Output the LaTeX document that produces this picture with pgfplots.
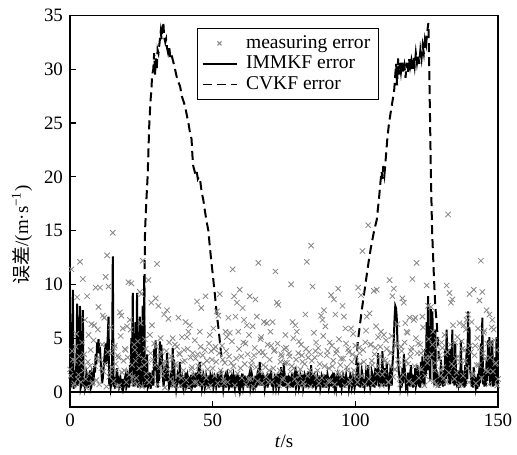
\documentclass[border=0pt]{standalone}
\usepackage{pgfplots}
\pgfplotsset{compat=1.18}
\usepackage{fontspec}
\setmainfont{Liberation Serif}
\newfontfamily\cjk{Noto Sans CJK SC}
\definecolor{meas}{RGB}{135,135,135}
\begin{document}
\begin{tikzpicture}
\useasboundingbox (-35bp,-24bp) rectangle (223.5bp,203.5bp);
\begin{axis}[
  at={(0,0)}, anchor=south west, scale only axis,
  width=214bp, height=195.75bp,
  xmin=0, xmax=150, ymin=-1.4, ymax=35,
  xtick={0,50,100,150}, ytick={0,5,...,35},
  tick pos=left, tick align=inside, major tick length=3bp,
  axis line style={line width=0.6pt}, every tick/.style={black, line width=0.6pt},
  /pgf/number format/assume math mode=true,
  tick label style={font=\fontsize{9.5}{11}\selectfont},
  label style={font=\fontsize{9.5}{11}\selectfont},
  xlabel={\textit{t}/s},
  ylabel={{\cjk 误差}/(m·s\textsuperscript{−1})},
  xlabel style={at={(axis description cs:0.5,-0.089)}, anchor=center},
  ylabel style={at={(axis description cs:-0.112,0.44)}, anchor=center},
  legend style={at={(0.2967,0.968)}, anchor=north west, draw=black, line width=0.6pt,
     font=\fontsize{9.8}{11}\selectfont, inner xsep=2.2bp, inner ysep=1.4bp, row sep=-1.6bp,
     /tikz/every odd column/.append style={column sep=2.5bp}},
  legend image post style={line width=0.55bp, mark size=1.4pt},
  legend cell align=left,
]
\addplot[only marks, mark=x, mark size=1.9pt, draw=meas, line width=0.4pt] coordinates {
(0,2.1)(0.5,11.4)(1,3.0)(1.5,0.8)(2,4.2)(2.5,8.8)(3,1.6)(3.5,12.1)(4,2.7)(4.5,10.5)
(5,3.5)(5.5,1.2)(6,8.9)(6.5,5.3)(7,2.4)(7.5,6.3)(8,0.9)(8.5,6.2)(9,9.7)(9.5,3.1)
(10,7.9)(10.5,9.7)(11,2.2)(11.5,7.1)(12,6.9)(12.5,10.7)(13,12.7)(13.5,9.8)(14,1.8)(14.5,3.6)
(15,14.8)(15.5,4.1)(16,2.6)(16.5,0.5)(17,3.2)(17.5,7.4)(18,7.1)(18.5,5.9)(19,2.0)(19.5,3.9)
(20,6.1)(20.5,10.2)(21,6.7)(21.5,10.1)(22,1.4)(22.5,4.4)(23,2.9)(23.5,0.7)(24,3.4)(24.5,9.3)
(25,9.1)(25.5,12.2)(26,2.5)(26.5,4.0)(27,1.1)(27.5,10.4)(28,5.3)(28.5,8.3)(29,3.0)(29.5,4.5)
(30,8.7)(30.5,11.9)(31,8.0)(31.5,2.3)(32,3.7)(32.5,1.5)(33,7.2)(33.5,2.8)(34,7.6)(34.5,6.8)
(35,1.9)(35.5,3.3)(36,5.0)(36.5,0.6)(37,2.6)(37.5,4.2)(38,6.9)(38.5,3.5)(39,1.3)(39.5,2.8)
(40,3.9)(40.5,6.5)(41,5.1)(41.5,5.6)(42,6.2)(42.5,2.1)(43,3.6)(43.5,0.9)(44,3.1)(44.5,8.4)
(45,2.4)(45.5,5.6)(46,7.8)(46.5,3.4)(47,1.6)(47.5,8.9)(48,2.9)(48.5,0.4)(49,5.3)(49.5,3.8)
(50,2.2)(50.5,4.0)(51,4.2)(51.5,7.5)(52,7.1)(52.5,9.1)(53,1.7)(53.5,3.0)(54,0.8)(54.5,5.6)
(55,5.1)(55.5,6.9)(56,5.5)(56.5,2.7)(57,11.4)(57.5,8.9)(58,7.0)(58.5,8.3)(59,5.6)(59.5,9.5)
(60,3.3)(60.5,7.8)(61,6.7)(61.5,4.5)(62,6.2)(62.5,1.2)(63,8.9)(63.5,2.5)(64,6.1)(64.5,3.4)
(65,8.6)(65.5,7.0)(66,12.0)(66.5,1.9)(67,5.1)(67.5,3.7)(68,6.5)(68.5,2.3)(69,6.4)(69.5,0.9)
(70,3.0)(70.5,4.3)(71,6.5)(71.5,3.8)(72,11.2)(72.5,8.3)(73,8.1)(73.5,2.0)(74,3.5)(74.5,1.1)
(75,4.0)(75.5,5.3)(76,2.7)(76.5,0.7)(77,3.3)(77.5,10.0)(78,6.5)(78.5,2.2)(79,6.2)(79.5,5.6)
(80,3.6)(80.5,1.5)(81,4.4)(81.5,2.8)(82,0.6)(82.5,7.2)(83,12.1)(83.5,3.2)(84,2.0)(84.5,13.6)
(85,9.8)(85.5,5.5)(86,3.8)(86.5,1.3)(87,4.1)(87.5,2.6)(88,7.1)(88.5,6.7)(89,7.6)(89.5,6.1)
(90,3.4)(90.5,1.0)(91,4.6)(91.5,9.0)(92,2.4)(92.5,8.6)(93,7.2)(93.5,3.9)(94,9.6)(94.5,1.7)
(95,3.1)(95.5,8.0)(96,7.0)(96.5,5.9)(97,2.3)(97.5,4.0)(98,0.8)(98.5,5.9)(99,3.5)(99.5,2.0)
(100,4.3)(100.5,1.4)(101,9.7)(101.5,3.6)(102,9.0)(102.5,13.1)(103,2.8)(103.5,4.6)(104,7.0)(104.5,15.5)
(105,7.3)(105.5,4.4)(106,2.5)(106.5,9.4)(107,4.1)(107.5,9.5)(108,5.1)(108.5,3.3)(109,5.6)(109.5,1.6)
(110,5.3)(110.5,2.9)(111,4.0)(111.5,0.9)(112,10.4)(112.5,3.7)(113,8.9)(113.5,9.6)(114,2.1)(114.5,4.5)
(115,3.0)(115.5,1.2)(116,4.2)(116.5,8.7)(117,8.3)(117.5,6.4)(118,5.6)(118.5,2.6)(119,6.9)(119.5,3.8)
(120,10.5)(120.5,6.7)(121,6.9)(121.5,12.0)(122,4.5)(122.5,2.2)(123,3.6)(123.5,7.0)(124,3.8)(124.5,1.5)
(125,9.9)(125.5,8.0)(126,3.2)(126.5,7.9)(127,4.4)(127.5,1.0)(128,2.7)(128.5,4.8)(129,0.6)(129.5,3.4)
(130,2.0)(130.5,4.1)(131,1.3)(131.5,3.5)(132,9.9)(132.5,16.5)(133,9.2)(133.5,8.3)(134,8.6)(134.5,2.4)
(135,4.6)(135.5,1.8)(136,3.3)(136.5,6.4)(137,0.7)(137.5,4.0)(138,6.2)(138.5,2.9)(139,6.7)(139.5,7.2)
(140,9.1)(140.5,3.7)(141,1.5)(141.5,9.5)(142,4.3)(142.5,2.5)(143,5.9)(143.5,8.5)(144,12.2)(144.5,9.3)
(145,5.5)(145.5,3.1)(146,7.6)(146.5,1.9)(147,7.2)(147.5,4.4)(148,6.7)(148.5,5.8)(149,2.6)(149.5,3.9)
(150,1.2)
(0.25,1.5)(0.75,3.8)(1.25,0.6)(1.75,2.9)(2.25,5.4)(2.75,1.2)(3.25,3.3)(3.75,0.9)(4.25,4.6)(4.75,2.0)
(5.25,6.7)(5.75,0.4)(6.25,2.8)(6.75,1.7)(7.25,3.9)(7.75,0.8)(8.25,4.8)(8.75,2.4)(9.25,1.1)(9.75,5.8)
(10.25,0.7)(10.75,3.0)(11.25,4.4)(11.75,1.9)(12.25,2.6)(12.75,0.5)(13.25,3.7)(13.75,1.4)(14.25,6.0)(14.75,2.3)
(15.25,1.0)(15.75,4.3)(16.25,2.0)(16.75,3.4)(17.25,0.6)(17.75,5.2)(18.25,1.8)(18.75,2.9)(19.25,4.0)(19.75,0.9)
(20.25,3.2)(20.75,1.6)(21.25,5.8)(21.75,2.5)(22.25,0.8)(22.75,3.9)(23.25,1.3)(23.75,4.7)(24.25,2.2)(24.75,6.4)
(25.25,0.5)(25.75,3.1)(26.25,4.9)(26.75,1.7)(27.25,2.8)(27.75,0.9)(28.25,3.6)(28.75,6.2)(29.25,1.4)(29.75,2.5)
(30.25,4.2)(30.75,0.7)(31.25,3.3)(31.75,5.0)(32.25,1.9)(32.75,2.7)(33.25,0.4)(33.75,3.8)(34.25,2.1)(34.75,4.6)
(35.25,1.2)(35.75,3.0)(36.25,0.8)(36.75,4.4)(37.25,2.4)(37.75,1.5)(38.25,3.6)(38.75,0.6)(39.25,5.1)(39.75,2.0)
(40.25,2.9)(40.75,1.1)(41.25,4.0)(41.75,0.5)(42.25,3.2)(42.75,2.3)(43.25,1.6)(43.75,4.8)(44.25,0.9)(44.75,3.5)
(45.25,1.8)(45.75,4.2)(46.25,0.7)(46.75,2.6)(47.25,3.9)(47.75,1.3)(48.25,2.1)(48.75,4.5)(49.25,0.6)(49.75,3.0)
(50.25,5.9)(50.75,1.5)(51.25,2.8)(51.75,0.8)(52.25,3.6)(52.75,2.0)(53.25,4.3)(53.75,1.1)(54.25,2.7)(54.75,3.8)
(55.25,0.9)(55.75,3.3)(56.25,1.9)(56.75,4.7)(57.25,2.4)(57.75,0.6)(58.25,3.1)(58.75,1.7)(59.25,4.0)(59.75,2.2)
(60.25,1.3)(60.75,4.6)(61.25,2.6)(61.75,0.7)(62.25,3.5)(62.75,5.3)(63.25,1.2)(63.75,2.9)(64.25,0.5)(64.75,4.1)
(65.25,2.3)(65.75,1.0)(66.25,3.7)(66.75,4.9)(67.25,0.8)(67.75,2.5)(68.25,3.4)(68.75,1.4)(69.25,4.4)(69.75,2.0)
(70.25,5.6)(70.75,0.9)(71.25,2.2)(71.75,3.9)(72.25,1.6)(72.75,4.5)(73.25,0.6)(73.75,2.8)(74.25,3.3)(74.75,1.3)
(75.25,2.7)(75.75,4.1)(76.25,0.7)(76.75,3.6)(77.25,1.9)(77.75,2.4)(78.25,5.0)(78.75,1.2)(79.25,3.0)(79.75,0.8)
(80.25,4.7)(80.75,2.1)(81.25,3.4)(81.75,0.9)(82.25,2.6)(82.75,4.0)(83.25,1.5)(83.75,3.7)(84.25,0.5)(84.75,2.9)
(85.25,1.7)(85.75,3.2)(86.25,4.6)(86.75,2.0)(87.25,0.8)(87.75,3.5)(88.25,1.3)(88.75,5.2)(89.25,2.4)(89.75,0.6)
(90.25,3.8)(90.75,2.2)(91.25,1.0)(91.75,4.3)(92.25,2.9)(92.75,0.7)(93.25,3.6)(93.75,1.8)(94.25,4.9)(94.75,2.5)
(95.25,1.4)(95.75,3.1)(96.25,0.6)(96.75,4.5)(97.25,2.0)(97.75,3.7)(98.25,1.1)(98.75,2.8)(99.25,5.4)(99.75,1.6)
(100.25,3.3)(100.75,0.9)(101.25,4.1)(101.75,2.6)(102.25,1.5)(102.75,3.9)(103.25,0.7)(103.75,5.7)(104.25,2.3)(104.75,1.2)
(105.25,4.4)(105.75,2.9)(106.25,0.8)(106.75,3.5)(107.25,6.1)(107.75,1.7)(108.25,2.4)(108.75,4.2)(109.25,0.6)(109.75,3.0)
(110.25,1.9)(110.75,4.8)(111.25,2.7)(111.75,0.9)(112.25,3.6)(112.75,5.2)(113.25,1.4)(113.75,2.1)(114.25,4.3)(114.75,6.3)
(115.25,2.5)(115.75,0.7)(116.25,3.8)(116.75,1.6)(117.25,4.6)(117.75,2.9)(118.25,5.5)(118.75,1.0)(119.25,3.3)(119.75,4.1)
(120.25,0.8)(120.75,2.4)(121.25,5.0)(121.75,3.6)(122.25,1.3)(122.75,4.4)(123.25,2.1)(123.75,6.0)(124.25,0.6)(124.75,3.2)
(125.25,2.7)(125.75,4.9)(126.25,1.1)(126.75,3.5)(127.25,5.6)(127.75,2.0)(128.25,0.7)(128.75,4.2)(129.25,3.0)(129.75,1.5)
(130.25,4.6)(130.75,2.3)(131.25,5.3)(131.75,0.9)(132.25,3.7)(132.75,1.8)(133.25,4.4)(133.75,2.6)(134.25,6.2)(134.75,1.2)
(135.25,3.1)(135.75,5.1)(136.25,0.6)(136.75,2.8)(137.25,4.7)(137.75,1.5)(138.25,3.9)(138.75,5.8)(139.25,2.2)(139.75,0.9)
(140.25,4.3)(140.75,6.5)(141.25,1.7)(141.75,3.4)(142.25,0.8)(142.75,5.0)(143.25,2.5)(143.75,4.1)(144.25,1.3)(144.75,3.6)
(145.25,5.7)(145.75,2.0)(146.25,4.5)(146.75,0.7)(147.25,3.2)(147.75,6.0)(148.25,1.9)(148.75,4.8)(149.25,2.7)(149.75,0.6)
};
\addlegendentry{measuring error}
\addplot[black, line width=1bp] coordinates {
(0,6.5)(0.25,0.4)(0.5,0.8)(0.75,5.0)(1,9.5)(1.25,0.3)(1.5,1.0)(1.75,2.0)(2,0.5)(2.25,3.0)(2.5,8.2)(2.75,0.6)(3,1.5)(3.25,5.5)(3.5,8.0)(3.75,0.4)(4,0.7)(4.25,3.5)(4.5,7.6)(4.75,0.5)
(5,1.2)(5.25,0.3)(5.5,0.6)(5.75,1.8)(6,1.5)(6.25,0.4)(6.5,0.9)(6.75,1.4)(7,2.0)(7.25,0.3)(7.5,0.5)(7.75,1.6)(8,1.2)(8.25,0.7)(8.5,2.4)(8.75,1.8)(9,3.5)(9.25,2.6)(9.5,4.6)(9.75,3.8)
(10,4.9)(10.25,3.6)(10.5,4.2)(10.75,2.8)(11,2.0)(11.25,0.8)(11.5,1.3)(11.75,2.2)(12,3.0)(12.25,3.8)(12.5,4.5)(12.75,2.6)(13,4.0)(13.25,5.2)(13.5,7.0)(13.75,0.6)(14,1.2)(14.25,0.4)(14.5,0.9)(14.75,2.5)
(15,12.6)(15.25,0.5)(15.5,1.4)(15.75,0.3)(16,0.8)(16.25,1.5)(16.5,2.2)(16.75,0.7)(17,1.5)(17.25,0.4)(17.5,0.6)(17.75,1.1)(18,0.5)(18.25,0.3)(18.5,1.2)(18.75,0.4)(19,0.7)(19.25,1.3)(19.5,1.6)(19.75,0.4)
(20,0.6)(20.25,1.4)(20.5,1.0)(20.75,0.4)(21,2.5)(21.25,0.8)(21.5,5.0)(21.75,2.0)(22,9.2)(22.25,0.5)(22.5,3.0)(22.75,0.6)(23,6.5)(23.25,0.9)(23.5,9.2)(23.75,0.4)(24,2.5)(24.25,0.6)(24.5,7.0)(24.75,0.4)
(25,1.5)(25.25,4.0)(25.5,8.0)(25.75,0.5)(26,10.8)(26.25,0.4)(26.5,1.0)(26.75,0.5)(27,3.5)(27.25,0.4)(27.5,0.6)(27.75,1.2)(28,1.8)(28.25,0.3)(28.5,0.8)(28.75,1.4)(29,2.0)(29.25,0.6)(29.5,4.0)(29.75,2.0)
(30,4.8)(30.25,2.2)(30.5,1.0)(30.75,0.4)(31,2.5)(31.25,1.0)(31.5,4.7)(31.75,2.5)(32,4.4)(32.25,3.0)(32.5,2.0)(32.75,0.5)(33,1.0)(33.25,1.6)(33.5,2.5)(33.75,1.0)(34,3.6)(34.25,2.4)(34.5,1.2)(34.75,0.4)
(35,0.6)(35.25,1.1)(35.5,2.0)(35.75,0.5)(36,4.1)(36.25,1.5)(36.5,3.0)(36.75,0.4)(37,1.2)(37.25,0.3)(37.5,0.8)(37.75,1.7)(38,1.5)(38.25,0.7)(38.5,2.8)(38.75,0.4)(39,1.0)(39.25,1.3)(39.5,0.6)(39.75,0.3)
(40,1.4)(40.25,0.4)(40.5,1.8)(40.75,0.5)(41,0.7)(41.25,1.5)(41.5,1.2)(41.75,0.3)(42,0.9)(42.25,0.6)(42.5,1.6)(42.75,0.4)(43,0.6)(43.25,1.4)(43.5,1.1)(43.75,0.4)(44,1.8)(44.25,0.5)(44.5,1.0)(44.75,1.6)
(45,2.0)(45.25,0.6)(45.5,2.8)(45.75,0.5)(46,1.6)(46.25,0.4)(46.5,0.8)(46.75,1.6)(47,1.3)(47.25,0.4)(47.5,0.7)(47.75,1.5)(48,1.2)(48.25,0.5)(48.5,1.5)(48.75,0.4)(49,0.9)(49.25,1.6)(49.5,1.4)(49.75,0.5)
(50,1.1)(50.25,0.4)(50.5,0.7)(50.75,1.4)(51,1.2)(51.25,0.5)(51.5,0.9)(51.75,1.6)(52,1.5)(52.25,0.4)(52.5,1.0)(52.75,0.5)(53,2.0)(53.25,0.5)(53.5,1.2)(53.75,0.3)(54,0.8)(54.25,1.4)(54.5,1.6)(54.75,0.4)
(55,1.0)(55.25,1.6)(55.5,1.3)(55.75,0.4)(56,0.6)(56.25,1.4)(56.5,1.5)(56.75,0.4)(57,1.1)(57.25,1.5)(57.5,0.8)(57.75,0.4)(58,1.6)(58.25,0.5)(58.5,1.2)(58.75,1.7)(59,0.7)(59.25,0.3)(59.5,1.4)(59.75,0.5)
(60,1.0)(60.25,0.4)(60.5,1.7)(60.75,0.5)(61,0.9)(61.25,1.5)(61.5,0.6)(61.75,1.2)(62,1.3)(62.25,0.4)(62.5,1.0)(62.75,1.5)(63,1.8)(63.25,0.4)(63.5,0.8)(63.75,1.6)(64,1.2)(64.25,0.4)(64.5,0.7)(64.75,0.5)
(65,1.5)(65.25,0.4)(65.5,1.1)(65.75,0.6)(66,2.2)(66.25,0.7)(66.5,2.8)(66.75,0.6)(67,1.0)(67.25,1.6)(67.5,0.6)(67.75,1.5)(68,1.3)(68.25,0.4)(68.5,0.9)(68.75,1.4)(69,1.5)(69.25,0.4)(69.5,1.1)(69.75,1.7)
(70,0.7)(70.25,1.2)(70.5,2.0)(70.75,0.5)(71,1.2)(71.25,0.4)(71.5,0.8)(71.75,1.5)(72,1.4)(72.25,0.5)(72.5,1.0)(72.75,0.4)(73,1.7)(73.25,0.5)(73.5,0.9)(73.75,1.3)(74,2.3)(74.25,0.6)(74.5,1.1)(74.75,0.5)
(75,2.7)(75.25,0.5)(75.5,1.0)(75.75,0.4)(76,1.5)(76.25,0.5)(76.5,0.8)(76.75,1.4)(77,1.3)(77.25,0.4)(77.5,1.0)(77.75,0.5)(78,1.8)(78.25,0.4)(78.5,1.2)(78.75,0.6)(79,2.3)(79.25,0.5)(79.5,0.9)(79.75,1.6)
(80,1.4)(80.25,0.4)(80.5,0.7)(80.75,1.5)(81,1.2)(81.25,0.5)(81.5,1.6)(81.75,0.4)(82,0.8)(82.25,1.6)(82.5,1.4)(82.75,0.4)(83,1.0)(83.25,0.5)(83.5,1.9)(83.75,0.4)(84,1.2)(84.25,0.5)(84.5,2.5)(84.75,0.6)
(85,1.6)(85.25,0.4)(85.5,0.9)(85.75,1.5)(86,1.3)(86.25,0.4)(86.5,0.6)(86.75,1.4)(87,1.1)(87.25,0.5)(87.5,1.5)(87.75,0.4)(88,0.8)(88.25,1.5)(88.5,1.3)(88.75,0.4)(89,1.0)(89.25,0.5)(89.5,1.6)(89.75,0.4)
(90,0.9)(90.25,1.6)(90.5,1.2)(90.75,0.4)(91,0.7)(91.25,1.3)(91.5,1.4)(91.75,0.5)(92,1.1)(92.25,0.4)(92.5,1.8)(92.75,0.5)(93,0.9)(93.25,0.4)(93.5,1.3)(93.75,1.6)(94,0.6)(94.25,1.3)(94.5,1.0)(94.75,0.4)
(95,1.5)(95.25,0.4)(95.5,0.8)(95.75,1.5)(96,1.2)(96.25,0.4)(96.5,1.0)(96.75,1.5)(97,0.6)(97.25,1.3)(97.5,1.3)(97.75,0.4)(98,0.9)(98.25,1.6)(98.5,1.4)(98.75,0.4)(99,0.7)(99.25,1.4)(99.5,1.1)(99.75,0.4)
(100,0.8)(100.25,1.5)(100.5,1.9)(100.75,0.6)(101,2.7)(101.25,0.5)(101.5,1.3)(101.75,0.4)(102,1.0)(102.25,2.0)(102.5,1.6)(102.75,0.4)(103,1.2)(103.25,0.5)(103.5,0.9)(103.75,1.8)(104,1.5)(104.25,0.5)(104.5,2.5)(104.75,0.6)
(105,1.2)(105.25,0.4)(105.5,0.8)(105.75,1.9)(106,1.6)(106.25,0.5)(106.5,1.0)(106.75,0.4)(107,2.2)(107.25,0.6)(107.5,1.4)(107.75,2.0)(108,3.6)(108.25,0.5)(108.5,1.2)(108.75,0.6)(109,2.0)(109.25,0.8)(109.5,3.8)(109.75,0.5)
(110,1.0)(110.25,2.2)(110.5,1.5)(110.75,0.5)(111,2.7)(111.25,0.7)(111.5,1.1)(111.75,0.4)(112,0.8)(112.25,1.9)(112.5,1.5)(112.75,0.6)(113,2.5)(113.25,3.5)(113.5,5.0)(113.75,6.8)(114,8.0)(114.25,7.8)(114.5,7.0)(114.75,4.8)
(115,3.0)(115.25,1.8)(115.5,1.4)(115.75,0.5)(116,1.0)(116.25,0.4)(116.5,2.2)(116.75,0.8)(117,3.5)(117.25,2.4)(117.5,1.5)(117.75,0.5)(118,0.8)(118.25,0.4)(118.5,1.8)(118.75,0.6)(119,1.2)(119.25,0.5)(119.5,2.5)(119.75,0.6)
(120,1.0)(120.25,0.4)(120.5,1.6)(120.75,0.5)(121,2.2)(121.25,0.6)(121.5,1.0)(121.75,2.5)(122,1.8)(122.25,0.5)(122.5,1.3)(122.75,0.4)(123,2.8)(123.25,0.8)(123.5,3.3)(123.75,0.7)(124,1.5)(124.25,0.6)(124.5,4.0)(124.75,1.5)
(125,6.5)(125.25,2.0)(125.5,8.9)(125.75,4.0)(126,2.5)(126.25,1.0)(126.5,7.7)(126.75,3.0)(127,7.5)(127.25,4.0)(127.5,1.2)(127.75,0.6)(128,5.8)(128.25,1.0)(128.5,2.0)(128.75,0.5)(129,1.0)(129.25,0.4)(129.5,1.5)(129.75,0.6)
(130,3.0)(130.25,0.8)(130.5,1.2)(130.75,0.5)(131,2.0)(131.25,0.6)(131.5,4.0)(131.75,1.2)(132,5.8)(132.25,1.5)(132.5,2.5)(132.75,0.8)(133,4.0)(133.25,0.7)(133.5,1.5)(133.75,2.5)(134,5.8)(134.25,0.8)(134.5,2.2)(134.75,0.6)
(135,4.5)(135.25,2.0)(135.5,1.0)(135.75,0.4)(136,2.0)(136.25,0.8)(136.5,1.2)(136.75,0.4)(137,4.8)(137.25,0.8)(137.5,2.0)(137.75,0.5)(138,1.3)(138.25,0.4)(138.5,2.5)(138.75,0.6)(139,4.0)(139.25,1.2)(139.5,7.5)(139.75,2.5)
(140,6.0)(140.25,2.0)(140.5,1.5)(140.75,0.5)(141,1.0)(141.25,0.4)(141.5,2.3)(141.75,0.6)(142,1.4)(142.25,0.4)(142.5,0.8)(142.75,0.3)(143,1.7)(143.25,0.5)(143.5,2.6)(143.75,0.8)(144,4.5)(144.25,1.5)(144.5,6.9)(144.75,0.7)
(145,2.0)(145.25,0.5)(145.5,1.2)(145.75,0.6)(146,3.0)(146.25,1.0)(146.5,4.8)(146.75,1.5)(147,5.1)(147.25,0.6)(147.5,1.5)(147.75,2.0)(148,4.8)(148.25,0.5)(148.5,2.0)(148.75,0.6)(149,3.2)(149.25,1.0)(149.5,5.1)(149.75,0.6)
(150,2.0)
};
\addlegendentry{IMMKF error}
\addplot[black, line width=1bp, dash pattern=on 4.5bp off 2.5bp] coordinates {
(25.6,1)(25.9,6)(26.1,10)(26.3,15)(26.8,18)(27.2,20)(27.5,22.5)(27.8,25)(28.2,27)(28.5,28)
(28.8,29.5)(29.2,30)(29.5,31.5)(29.8,29.5)(30.1,31)(30.4,30)(30.7,31.8)(31,31.5)(31.4,32.5)
(31.8,33.5)(32.1,32.8)(32.4,33.8)(32.7,34.4)(33,33)(33.4,32.5)(33.7,32.8)(34,32)(34.4,31.5)
(34.8,32)(35.2,31)(35.6,31.3)(36.2,30.7)(36.8,30)(37.4,29.3)(38,28.8)(38.6,28.4)(39.2,27.5)
(39.8,27)(40.3,26.6)(40.9,25.8)(41.5,25)(42,24.2)(42.6,23.5)(42.9,22)(43.2,21)(43.6,20.6)
(44,20.2)(44.4,20.5)(44.8,19.8)(45.2,20)(45.6,19.7)(46.2,18.5)(46.7,17.9)(47.3,16.8)(47.9,15.8)
(48.5,15)(49,13.5)(49.6,12)(50.2,10.5)(50.8,9)(51.4,7.3)(52,6)(52.6,4.5)(53.2,3)
};
\addlegendentry{CVKF error}
\addplot[black, line width=1bp, dash pattern=on 4.5bp off 2.5bp, forget plot] coordinates {
(100.3,2.5)(100.8,4.5)(101.5,6)(102.2,7.5)(103,9)(103.8,10.5)(104.6,12)(105.5,13.5)(106.6,15)
(107.5,16)(108.3,18)(108.8,19.5)(109.2,20.5)(109.5,19.8)(109.8,21)(110.2,20.2)(110.6,21.5)
(111.2,23.5)(111.8,25)(112.4,26)(113,27)(113.6,28)(114,29.5)(114.3,30.5)(114.6,28.5)(115,31)
(115.3,29.5)(115.7,30.6)(116,29.8)(116.4,30.8)(116.8,29.6)(117.2,30.3)(117.6,29.2)(118,30.6)
(118.4,29.7)(118.8,31)(119.2,30.2)(119.6,30.8)(120,29.8)(120.4,31.2)(120.8,30.3)(121.2,31.5)
(121.6,30.6)(122,31.4)(122.4,30.5)(122.8,31.8)(123.2,31)(123.6,32.2)(124,31.5)(124.4,32.8)
(124.8,32.3)(125.2,33.5)(125.6,34.3)(125.9,30)(126.2,25)(126.5,20)(126.9,15)(127.5,11)
(128,8)(128.5,6.5)(129,4.5)(129.3,3)
};
\addplot[black, line width=0.6pt, forget plot] coordinates {(0,0)(150,0)};
\end{axis}
\end{tikzpicture}
\end{document}
